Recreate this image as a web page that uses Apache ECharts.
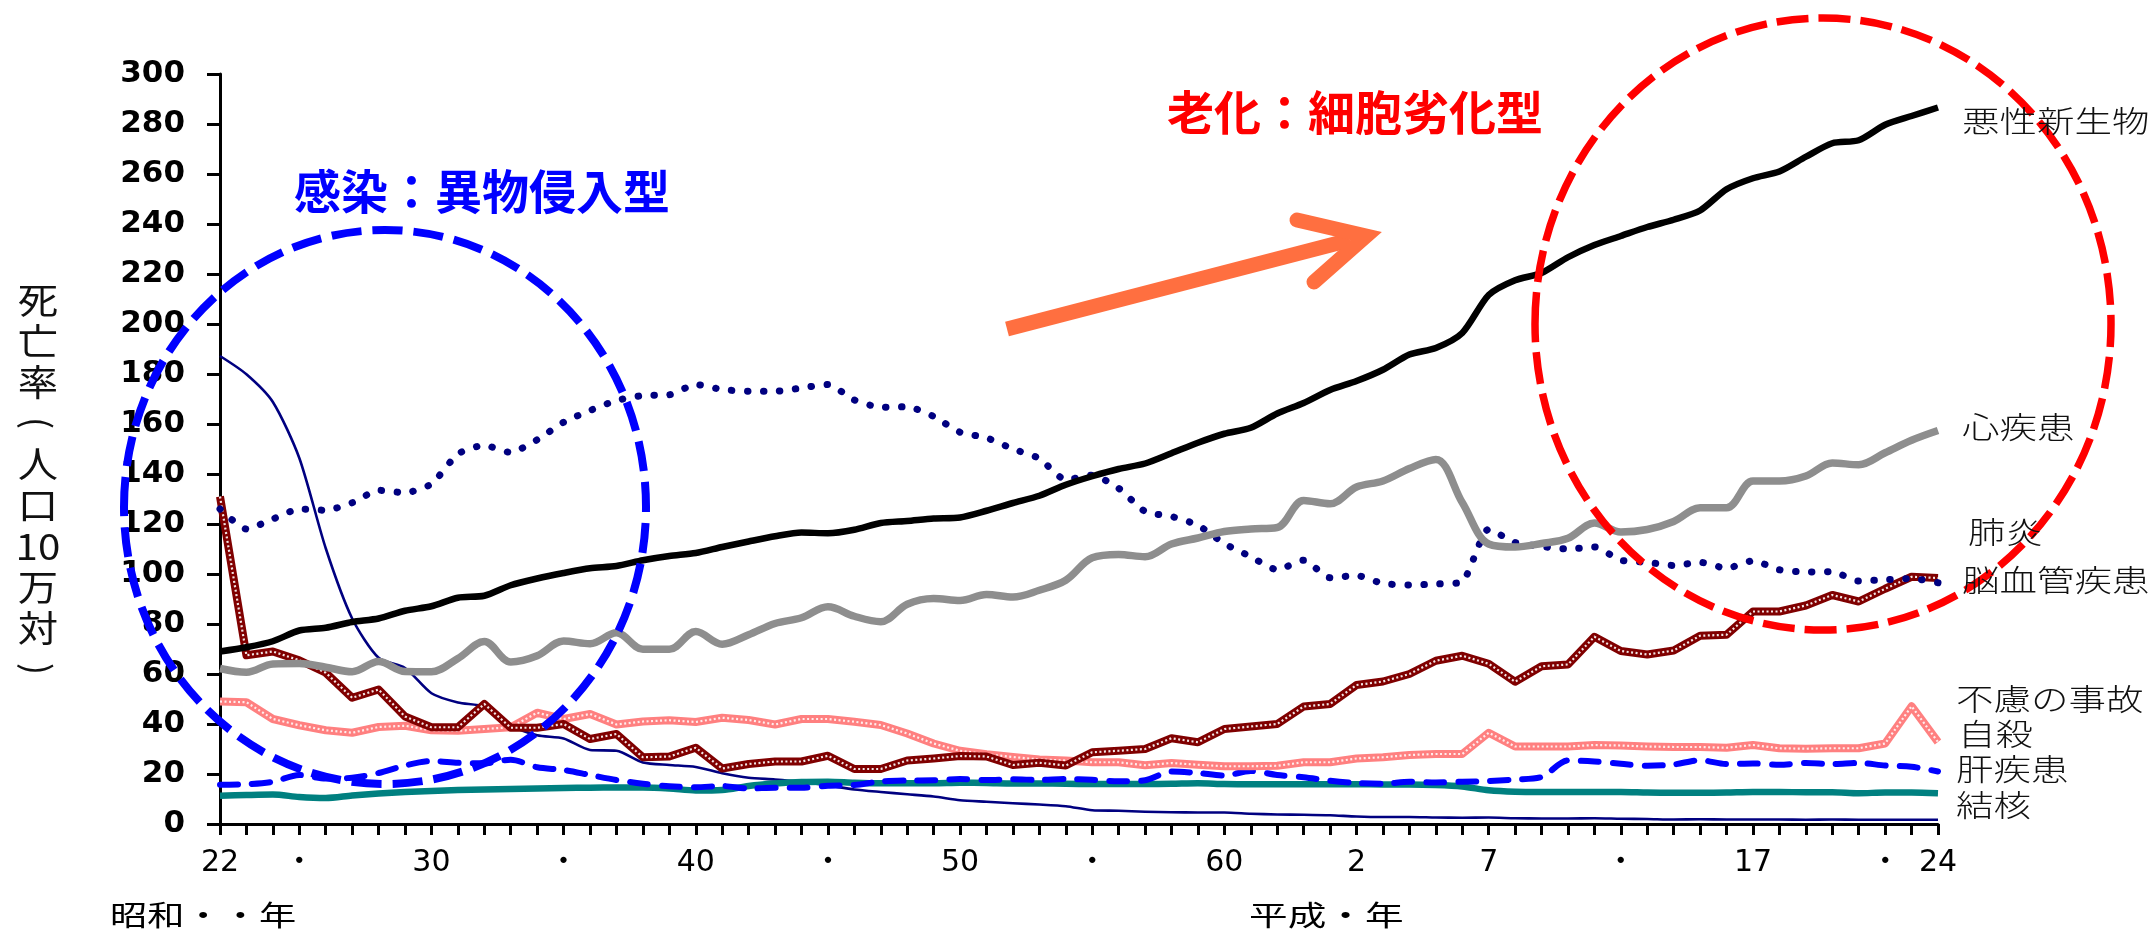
<!DOCTYPE html>
<html>
<head>
<meta charset="utf-8">
<title>主要死因別死亡率の推移</title>
<script src="https://cdn.jsdelivr.net/npm/echarts@6/dist/echarts.min.js"></script>
<style>
  html, body { margin: 0; padding: 0; background: #ffffff; }
  #chart { width: 2155px; height: 935px; }
</style>
</head>
<body>
<div id="chart"></div>
<script>
// 年次（昭和22年〜平成24年）
const years = [
  'S22','S23','S24','S25','S26','S27','S28','S29','S30','S31',
  'S32','S33','S34','S35','S36','S37','S38','S39','S40','S41',
  'S42','S43','S44','S45','S46','S47','S48','S49','S50','S51',
  'S52','S53','S54','S55','S56','S57','S58','S59','S60','S61',
  'S62','S63','H1','H2','H3','H4','H5','H6','H7','H8',
  'H9','H10','H11','H12','H13','H14','H15','H16','H17','H18',
  'H19','H20','H21','H22','H23','H24'
];

// 目盛ラベル
const tickLabels = {
  S22: '22', S25: '・', S30: '30', S35: '・', S40: '40', S45: '・',
  S50: '50', S55: '・', S60: '60', H2: '2', H7: '7', H12: '・',
  H17: '17', H22: '・', H24: '24'
};

// 死亡率（人口10万対）
const malignantNeoplasm = [
  69.0, 70.7, 73.1, 77.4, 78.5, 80.8, 82.2, 85.3, 87.1, 90.5,
  91.3, 95.5, 98.2, 100.4, 102.3, 103.2, 105.5, 107.2, 108.4, 110.8,
  113.0, 115.1, 116.6, 116.3, 117.7, 120.4, 121.2, 122.2, 122.6, 125.3,
  128.4, 131.3, 135.7, 139.1, 142.0, 144.2, 148.3, 152.5, 156.1, 158.5,
  164.2, 168.4, 173.6, 177.2, 181.7, 187.8, 190.4, 196.4, 211.6, 217.5,
  220.4, 226.7, 231.6, 235.2, 238.8, 241.7, 245.4, 253.9, 258.3, 261.0,
  266.9, 272.3, 273.5, 279.7, 283.2, 286.6
];
const heartDisease = [
  62.2, 60.7, 64.0, 64.2, 62.7, 60.9, 65.0, 61.0, 60.9, 66.2,
  73.0, 64.8, 67.3, 73.2, 72.1, 76.5, 69.9, 69.9, 77.0, 71.9,
  75.7, 80.2, 82.5, 86.9, 83.1, 80.9, 87.9, 90.2, 89.4, 91.8,
  90.8, 93.5, 97.5, 106.5, 107.8, 106.9, 112.0, 114.4, 117.0, 118.0,
  118.6, 129.4, 128.1, 134.8, 137.2, 142.2, 145.8, 128.6, 112.0, 110.8,
  112.2, 114.3, 120.4, 116.8, 117.8, 121.0, 126.5, 126.5, 137.2, 137.2,
  139.2, 144.4, 143.7, 148.5, 153.5, 157.4
];
const cerebrovascular = [
  126.0, 118.0, 122.0, 126.0, 125.5, 128.5, 133.5, 132.5, 136.0, 148.0,
  151.5, 148.6, 153.7, 160.7, 165.4, 169.4, 171.4, 171.7, 175.8, 173.8,
  173.1, 173.1, 174.4, 175.8, 169.6, 166.7, 166.9, 163.0, 156.7, 154.5,
  150.0, 146.2, 137.7, 139.5, 134.3, 125.0, 123.0, 119.5, 112.2, 106.9,
  101.7, 105.5, 98.5, 99.4, 96.2, 95.6, 96.0, 96.9, 117.9, 112.6,
  111.0, 110.0, 110.8, 105.5, 104.7, 103.4, 104.7, 102.3, 105.3, 101.7,
  100.8, 100.9, 97.2, 97.7, 98.2, 96.5
];
const pneumonia = [
  131.0, 67.5, 69.0, 65.5, 60.5, 50.5, 53.8, 43.0, 38.7, 38.7,
  48.0, 38.5, 38.5, 40.0, 34.0, 36.0, 26.7, 27.0, 30.5, 22.2,
  24.0, 25.0, 25.0, 27.3, 22.0, 22.0, 25.4, 26.2, 27.2, 27.0,
  23.6, 24.5, 23.4, 28.7, 29.3, 30.0, 34.3, 32.7, 38.0, 39.0,
  40.0, 47.0, 48.0, 55.6, 57.0, 60.0, 65.3, 67.3, 64.1, 56.9,
  63.1, 63.8, 74.9, 69.2, 67.8, 69.4, 75.3, 75.7, 85.0, 85.0,
  87.4, 91.6, 89.0, 94.1, 98.9, 98.4
];
const accidents = [
  49.0, 48.7, 42.0, 39.5, 37.5, 36.5, 38.8, 39.3, 37.5, 37.3,
  38.0, 38.7, 44.5, 42.0, 44.0, 39.8, 41.0, 41.5, 40.8, 42.5,
  41.6, 39.8, 42.0, 42.0, 40.9, 39.6, 36.2, 32.2, 29.3, 27.9,
  26.8, 25.8, 25.4, 24.7, 24.7, 23.5, 24.4, 23.7, 23.1, 23.1,
  23.3, 24.7, 24.7, 26.2, 26.7, 27.6, 28.0, 28.0, 36.5, 31.0,
  31.0, 31.0, 31.6, 31.4, 31.0, 30.8, 30.8, 30.5, 31.6, 30.3,
  30.1, 30.3, 30.3, 32.2, 47.1, 32.8
];
const suicide = [
  15.7, 15.9, 16.9, 19.6, 18.2, 18.5, 20.4, 23.4, 25.2, 24.5,
  24.3, 25.7, 22.7, 21.6, 19.6, 17.6, 16.1, 15.1, 14.7, 15.2,
  14.2, 14.5, 14.5, 15.3, 15.6, 17.0, 17.4, 17.5, 18.0, 17.6,
  17.9, 17.6, 18.0, 17.7, 17.1, 17.5, 21.0, 20.4, 19.4, 21.2,
  19.6, 18.7, 17.3, 16.4, 16.1, 16.9, 16.6, 16.9, 17.2, 17.8,
  18.8, 25.4, 25.0, 24.1, 23.3, 23.8, 25.5, 24.0, 24.2, 23.7,
  24.4, 24.0, 24.4, 23.4, 22.9, 21.0
];
const liverDisease = [
  11.3, 11.6, 11.8, 10.8, 10.4, 11.4, 12.2, 12.8, 13.2, 13.6,
  13.8, 14.0, 14.2, 14.4, 14.5, 14.6, 14.6, 14.2, 13.4, 13.6,
  15.2, 16.2, 16.8, 16.9, 16.5, 16.3, 16.3, 16.3, 16.5, 16.4,
  16.2, 16.2, 16.1, 16.0, 16.0, 16.0, 16.1, 16.3, 16.0, 15.9,
  15.9, 15.9, 15.9, 15.9, 15.8, 15.8, 15.6, 15.0, 13.5, 12.9,
  12.8, 12.8, 12.8, 12.8, 12.6, 12.5, 12.5, 12.6, 12.8, 12.8,
  12.7, 12.7, 12.3, 12.6, 12.6, 12.3
];
const tuberculosis = [
  187.2, 179.9, 168.8, 146.4, 110.3, 82.2, 66.5, 62.4, 52.3, 48.6,
  46.9, 39.5, 35.5, 34.2, 29.6, 29.3, 24.6, 23.6, 22.8, 20.3,
  18.5, 17.8, 16.8, 15.4, 13.8, 12.8, 11.9, 11.0, 9.5, 8.9,
  8.3, 7.8, 7.1, 5.5, 5.3, 4.9, 4.7, 4.6, 4.6, 4.1,
  3.8, 3.7, 3.5, 3.0, 2.8, 2.8, 2.6, 2.5, 2.6, 2.3,
  2.2, 2.2, 2.3, 2.1, 2.0, 1.8, 1.9, 1.8, 1.8, 1.8,
  1.7, 1.8, 1.7, 1.7, 1.7, 1.7
];

const CJK = '"Noto Sans CJK JP", "Noto Sans CJK SC", sans-serif';

function line(name, data, color, width, extra) {
  return Object.assign({
    name: name,
    type: 'line',
    data: data,
    showSymbol: false,
    symbol: 'none',
    silent: true,
    lineStyle: { color: color, width: width, cap: 'butt', join: 'round' }
  }, extra || {});
}

const series = [
  line('結核', tuberculosis, '#000080', 2.6, { smooth: 0.25, z: 2 }),
  line('肝疾患', liverDisease, '#008080', 6.5, { smooth: 0.3, z: 3 }),
  line('自殺', suicide, '#0000ff', 6, { smooth: 0.3, z: 4 }),
  line('不慮の事故', accidents, '#ff8080', 8, { z: 5 }),
  line('不慮の事故', accidents, 'rgba(255,255,255,0.85)', 2.2, { z: 6 }),
  line('肺炎', pneumonia, '#800000', 8, { z: 7 }),
  line('肺炎', pneumonia, 'rgba(255,255,255,0.9)', 2.2, { z: 8 }),
  line('脳血管疾患', cerebrovascular, '#000080', 7, { smooth: 0.2, z: 9 }),
  line('心疾患', heartDisease, '#8e8e8e', 7.5, { smooth: 0.35, z: 10 }),
  line('悪性新生物', malignantNeoplasm, '#000000', 6.5, { smooth: 0.25, z: 11 })
];
// 線種
series[2].lineStyle.type = [18, 14];
series[2].lineStyle.cap = 'round';
series[4].lineStyle.type = [2, 2.5];
series[6].lineStyle.type = [2, 2.5];
series[7].lineStyle.type = [0.5, 15.5];
series[7].lineStyle.cap = 'round';

// 右端の死因名
const causeLabels = [
  { text: '悪性新生物', x: 1962, y: 121 },
  { text: '心疾患', x: 1962, y: 427 },
  { text: '肺炎', x: 1968, y: 532 },
  { text: '脳血管疾患', x: 1962, y: 580 },
  { text: '不慮の事故', x: 1956, y: 699 },
  { text: '自殺', x: 1958, y: 734 },
  { text: '肝疾患', x: 1956, y: 769 },
  { text: '結核', x: 1956, y: 805 }
];

const graphics = [];
causeLabels.forEach(function (c) {
  graphics.push({
    type: 'text', x: c.x, y: c.y, scaleX: 1.25, z: 120,
    style: {
      text: c.text, fill: '#111', fontSize: 30, fontWeight: 300,
      fontFamily: CJK, align: 'left', verticalAlign: 'middle'
    }
  });
});

// 縦軸タイトル（縦書き、括弧は90度回転）
const axisTitleRows = ['死', '亡', '率', '(', '人', '口', '10', '万', '対', ')'];
axisTitleRows.forEach(function (ch, i) {
  const isParen = ch === '(' || ch === ')';
  graphics.push({
    type: 'text', x: 38, y: 300 + i * 41, z: 120,
    scaleX: isParen ? 1 : 1.12,
    rotation: isParen ? -Math.PI / 2 : 0,
    style: {
      text: ch, fill: '#111', fontSize: isParen ? 36 : 36,
      fontFamily: CJK, align: 'center', verticalAlign: 'middle'
    }
  });
});

// 元号表記
graphics.push({
  type: 'text', x: 110, y: 915, scaleX: 1.33, z: 120,
  style: { text: '昭和・・年', fill: '#000', fontSize: 28, fontFamily: CJK, align: 'left', verticalAlign: 'middle' }
});
graphics.push({
  type: 'text', x: 1249, y: 915, scaleX: 1.38, z: 120,
  style: { text: '平成・年', fill: '#000', fontSize: 28, fontFamily: CJK, align: 'left', verticalAlign: 'middle' }
});

// 囲み（感染／老化）
graphics.push({
  type: 'ellipse', z: 110, silent: true,
  shape: { cx: 385, cy: 507, rx: 261, ry: 277 },
  style: { fill: 'none', stroke: '#0000ff', lineWidth: 8, lineDash: [30, 11] }
});
graphics.push({
  type: 'ellipse', z: 110, silent: true,
  shape: { cx: 1823, cy: 324, rx: 288, ry: 306 },
  style: { fill: 'none', stroke: '#ff0000', lineWidth: 7.5, lineDash: [32, 10] }
});

// 矢印
graphics.push({
  type: 'line', z: 110, silent: true,
  shape: { x1: 1007, y1: 329, x2: 1350, y2: 240 },
  style: { stroke: '#ff6f40', lineWidth: 15, lineCap: 'butt' }
});
graphics.push({
  type: 'polyline', z: 110, silent: true,
  shape: { points: [[1297, 220], [1366, 236], [1314, 282]] },
  style: { fill: 'none', stroke: '#ff6f40', lineWidth: 15, lineCap: 'round', lineJoin: 'miter', miterLimit: 10 }
});

// 見出し
graphics.push({
  type: 'text', x: 294, y: 191, z: 120,
  style: { text: '感染：異物侵入型', fill: '#0000ff', fontSize: 47, fontWeight: 'bold', fontFamily: CJK, align: 'left', verticalAlign: 'middle' }
});
graphics.push({
  type: 'text', x: 1167, y: 112, z: 120,
  style: { text: '老化：細胞劣化型', fill: '#ff0000', fontSize: 47, fontWeight: 'bold', fontFamily: CJK, align: 'left', verticalAlign: 'middle' }
});

const chart = echarts.init(document.getElementById('chart'), null, { renderer: 'canvas' });
chart.setOption({
  animation: false,
  backgroundColor: '#ffffff',
  grid: { left: 220, right: 217, top: 74, bottom: 111, containLabel: false, outerBoundsMode: 'none' },
  xAxis: {
    type: 'category',
    data: years,
    boundaryGap: false,
    axisLine: { show: true, lineStyle: { color: '#000', width: 3 } },
    axisTick: { show: true, interval: 0, length: 11, lineStyle: { color: '#000', width: 3 } },
    axisLabel: {
      interval: 0, margin: 24, color: '#000', fontSize: 30,
      fontFamily: '"DejaVu Sans", "Noto Sans CJK JP", sans-serif',
      formatter: function (v) { return tickLabels[v] || ''; }
    },
    splitLine: { show: false }
  },
  yAxis: {
    type: 'value',
    min: 0, max: 300, interval: 20,
    axisLine: { show: true, lineStyle: { color: '#000', width: 3 } },
    axisTick: { show: true, length: 13, lineStyle: { color: '#000', width: 3 } },
    axisLabel: {
      margin: 35, color: '#000', fontSize: 31, fontWeight: 'bold',
      fontFamily: '"DejaVu Sans", sans-serif'
    },
    splitLine: { show: false }
  },
  series: series,
  graphic: graphics
});
</script>
</body>
</html>
